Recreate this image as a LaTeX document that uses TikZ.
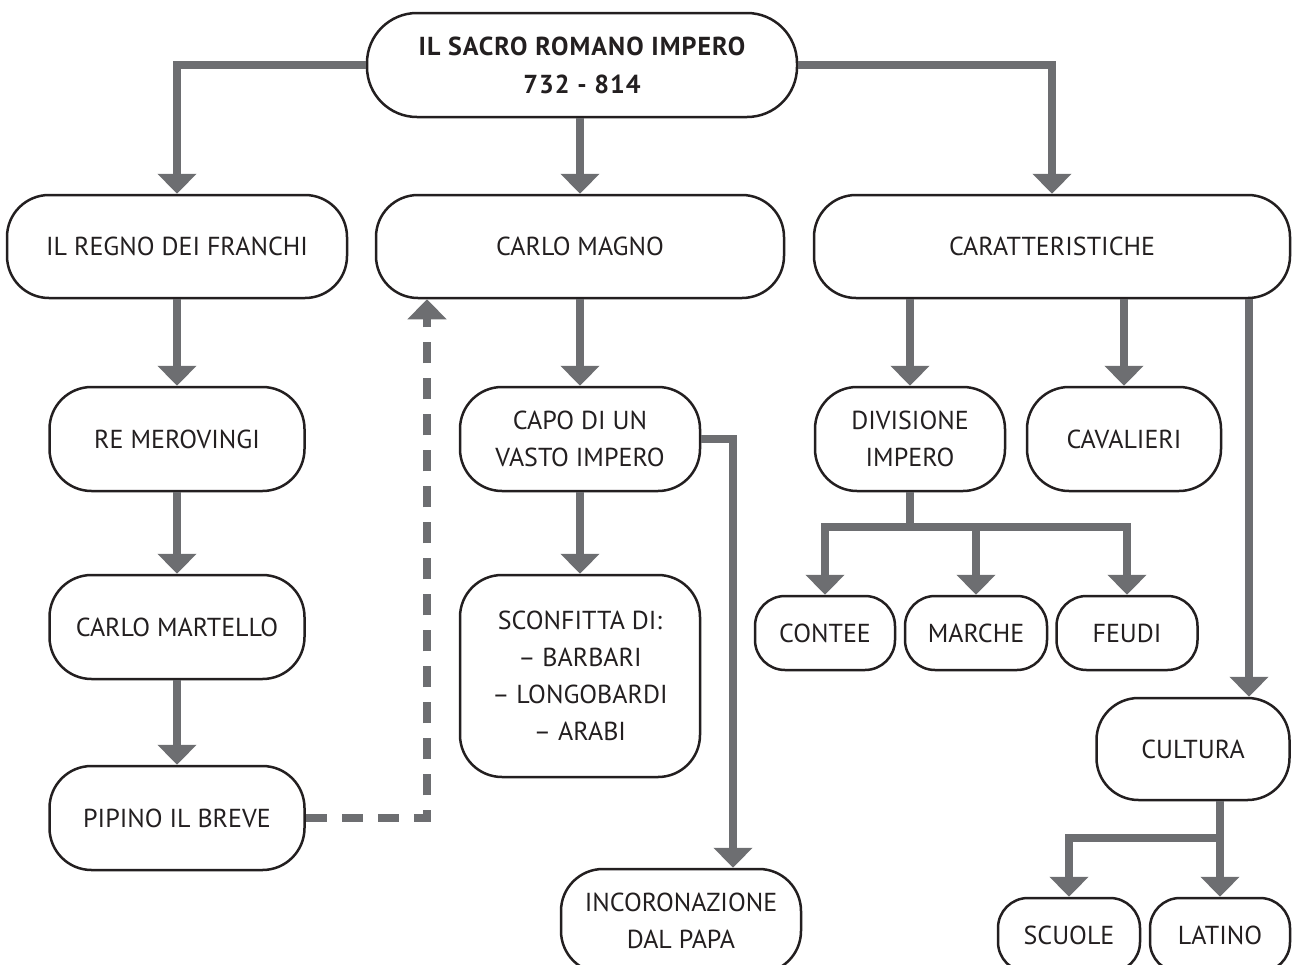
\documentclass[tikz,border=0pt]{standalone}
\usepackage{fontspec}
\setmainfont{PT Sans}
\usetikzlibrary{arrows.meta}
\definecolor{arrc}{HTML}{6D6E71}
\definecolor{inkc}{HTML}{231F20}
\newcommand\dgfont{\fontsize{26}{37}\selectfont}
\begin{document}
\begin{tikzpicture}[x=1pt,y=-1pt,
  box/.style={draw=inkc, line width=2.5pt, rounded corners=42pt, align=center,
    inner sep=0pt, text=inkc, font=\dgfont, fill=white},
  small/.style={rounded corners=30pt},
  sz/.style 2 args={minimum width=#1pt, minimum height=#2pt},
  ln/.style={draw=arrc, line width=8.5pt},
  arr/.style={ln, -{Triangle[width=38pt,length=20pt]}},
  dsh/.style={arr, dash pattern=on 21pt off 15pt}]
\useasboundingbox (0,0) rectangle (1293,964);
\clip (0,0) rectangle (1293,964);

% nodes
\node[box, sz={430}{104}, rounded corners=50pt, font=\dgfont\bfseries\addfontfeature{LetterSpace=4}] (top) at (582,65) {IL SACRO ROMANO IMPERO\\[1pt]732 - 814};
\node[box, sz={340}{103}] (regno) at (177,246.5) {IL REGNO DEI FRANCHI};
\node[box, sz={408}{103}] (magno) at (580,246.5) {CARLO MAGNO};
\node[box, sz={476}{103}] (caratt) at (1052,246.5) {CARATTERISTICHE};
\node[box, sz={255}{104}] (merov) at (177,439) {RE MEROVINGI};
\node[box, sz={255}{104}] (martello) at (177,627) {CARLO MARTELLO};
\node[box, sz={255}{104}] (pipino) at (177,818) {PIPINO IL BREVE};
\node[box, sz={240}{104}] (capo) at (580,439) {CAPO DI UN\\VASTO IMPERO};
\node[box, sz={240}{202}] (sconf) at (580,676) {SCONFITTA DI:\\– BARBARI\\– LONGOBARDI\\– ARABI};
\node[box, sz={240}{104}] (inc) at (681,921) {INCORONAZIONE\\DAL PAPA};
\node[box, sz={190}{104}] (div) at (910,439) {DIVISIONE\\IMPERO};
\node[box, sz={194}{104}] (cav) at (1124,439) {CAVALIERI};
\node[box, small, sz={140}{74}] (contee) at (825,633) {CONTEE};
\node[box, small, sz={142}{74}] (marche) at (976,633) {MARCHE};
\node[box, small, sz={141}{74}] (feudi) at (1127,633) {FEUDI};
\node[box, sz={193}{102}] (cultura) at (1193,749) {CULTURA};
\node[box, small, sz={142}{74}] (scuole) at (1069,935) {SCUOLE};
\node[box, small, sz={140}{74}] (latino) at (1220,935) {LATINO};

% helper coordinates
\coordinate (dx) at (427,0);
\coordinate (ix) at (733,0);
\coordinate (cx) at (1249,0);
\coordinate (dj) at (910,527);
\coordinate (cj) at (1220,838);

% connectors
\draw[arr] (top.west) -| (regno.north);
\draw[arr] (top.south -| magno.north) -- (magno.north);
\draw[arr] (top.east) -| (caratt.north);
\draw[arr] (regno.south) -- (merov.north);
\draw[arr] (merov.south) -- (martello.north);
\draw[arr] (martello.south) -- (pipino.north);
\draw[dsh] (pipino.east) -| (magno.south -| dx);
\draw[arr] (magno.south) -- (capo.north);
\draw[arr] (capo.south) -- (sconf.north);
\draw[arr] (capo.east) -| (inc.north -| ix);
\draw[arr] (caratt.south -| div.north) -- (div.north);
\draw[arr] (caratt.south -| cav.north) -- (cav.north);
\draw[arr] (caratt.south -| cx) -- (cultura.north -| cx);
\draw[ln] (div.south) -- (dj);
\draw[arr] (dj) -| (contee.north);
\draw[arr] (dj) -| (feudi.north);
\draw[arr] (dj -| marche.north) -- (marche.north);
\draw[ln] (cultura.south -| cj) -- (cj);
\draw[arr] (cj) -| (scuole.north);
\draw[arr] (cj) -- (latino.north);
\end{tikzpicture}
\end{document}
